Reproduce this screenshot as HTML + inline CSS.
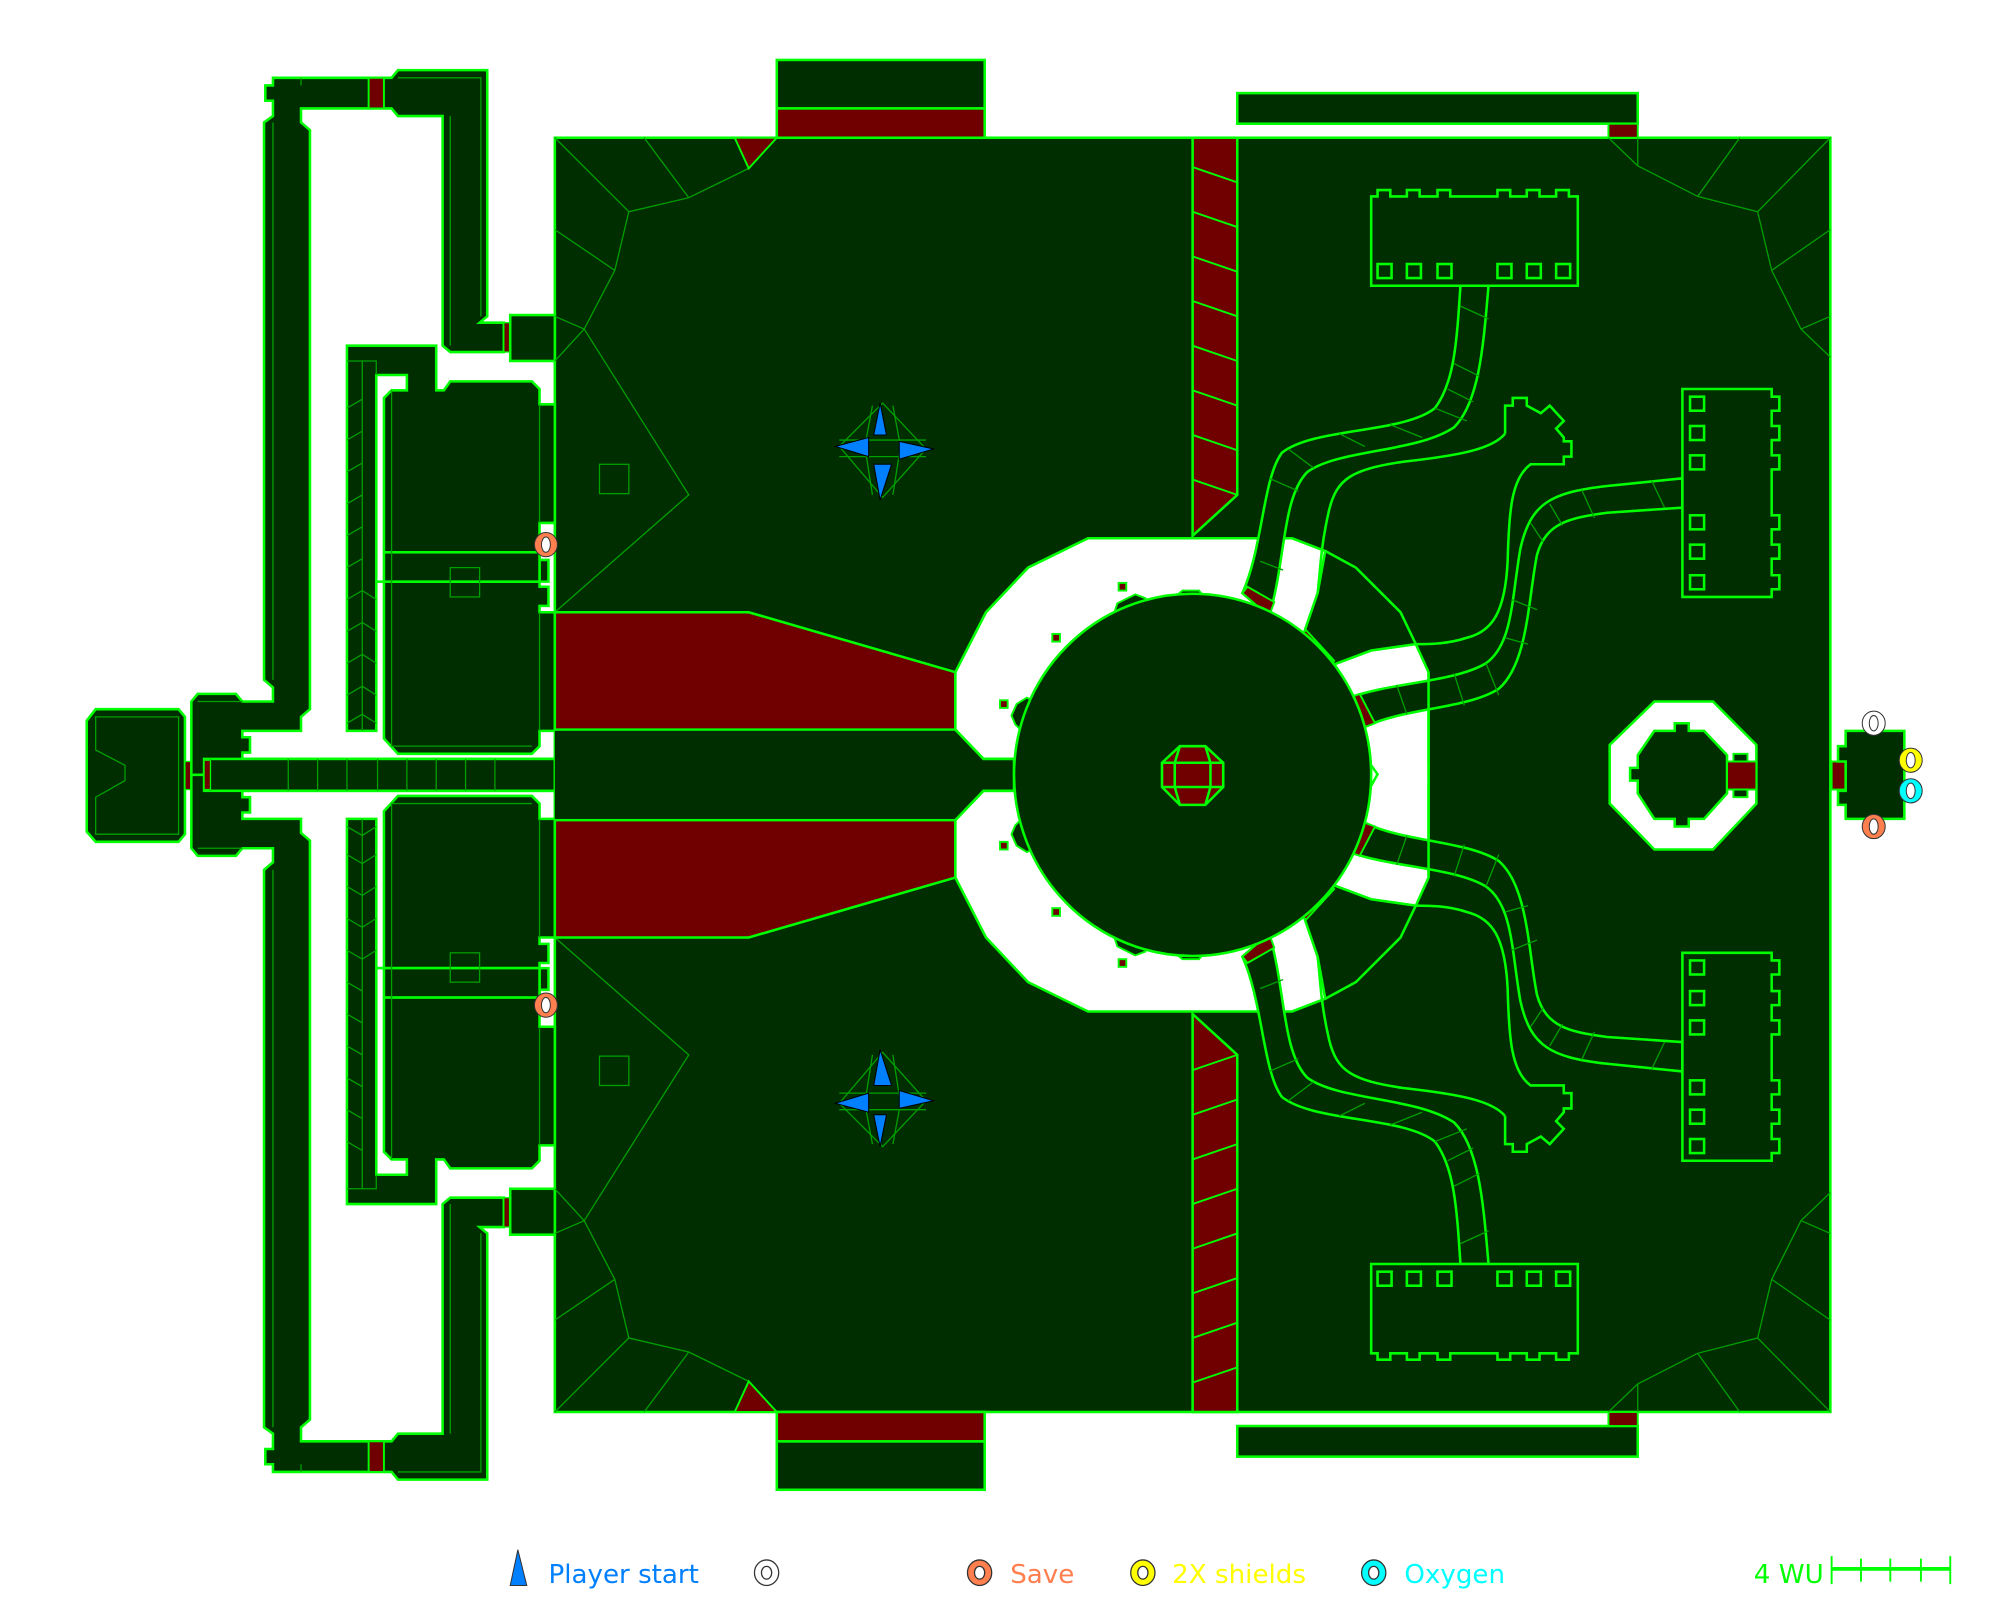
<!DOCTYPE html>
<html><head><meta charset="utf-8"><style>
html,body{margin:0;padding:0;background:#fff;}
svg{display:block;}
text{font-family:"DejaVu Sans","Liberation Sans",sans-serif;}
</style></head><body>
<svg width="2000" height="1600" viewBox="0 0 1568 1254.4" xmlns="http://www.w3.org/2000/svg">
<defs>
<g id="upper">
  <path d="M214,61 L307,61 L312,55 L382,55 L382,248 L376,253 L395,253 L395,276 L353,276 L347,271 L347,91 L312,91 L307,85 L236,85 L236,96 L243,102 L243,556 L236,562 L236,573 L190,573 L190,578 L196,578 L196,590 L190,590 L190,595 L435,595 L435,607.5 L150,607.5 L150,550 L155,544 L185,544 L190,550 L214,550 L214,539 L207,533 L207,96 L214,91 L214,79 L208,79 L208,67 L214,67 Z" fill="#002e00" stroke="#00ff00" stroke-width="2"/>
  <path d="M214,96 L214,533 M236,67 L236,61 M312,61 L377,61 L377,248 M353,91 L353,271 M155,550 L190,550" stroke="#00a000" stroke-width="1" fill="none"/>
  <rect x="289" y="61" width="12" height="24" fill="#700000" stroke="#00ff00" stroke-width="1.5"/>
  <rect x="395" y="253" width="5" height="23" fill="#700000" stroke="#00ff00" stroke-width="1"/>
  <rect x="400" y="247" width="35" height="36" fill="#002e00" stroke="#00ff00" stroke-width="2"/>
  <path d="M272,271 L342,271 L342,306 L348,306 L353,299 L417,299 L423,305 L423,317 L435,317 L435,410 L423,410 L423,439 L430,439 L430,456 L423,456 L423,460 L430,460 L430,475 L423,475 L423,480 L435,480 L435,573 L423,573 L423,585 L417,591 L312,591 L301,579 L301,456 L295,456 L295,573 L272,573 Z" fill="#002e00" stroke="#00ff00" stroke-width="2"/>
  <path d="M295,294 L319,294 L319,306 L307,306 L301,312 L301,433 L423,433 L423,456 L301,456 L295,456 Z" fill="#fff" stroke="#00ff00" stroke-width="2"/>
  <rect x="301" y="433" width="122" height="23" fill="#002e00" stroke="#00ff00" stroke-width="2"/>
  <path d="M284,283 L284,573 M272,283 L295,283 L295,294 M307,306 L307,585 L417,585 M423,317 L423,410 M423,480 L423,573 M272,320 L284,313 M272,345 L284,338 M272,370 L284,363 M272,395 L284,388 M272,420 L284,413 M272,445 L284,438 M272,470 L284,463 L295,470 M272,495 L284,488 L295,495 M272,520 L284,513 L295,520 M272,545 L284,538 L295,545 M272,567 L284,560 L295,567" stroke="#00a000" stroke-width="1" fill="none"/>
  <rect x="353" y="445" width="23" height="23" fill="none" stroke="#00a000" stroke-width="1"/>
  <path d="M435,108 L493,166 L540,155 L587,132 M505,108 L540,155 M435,180 L482,212 M493,166 L482,212 L458,258 L435,248 M458,258 L540,388 L435,480 M458,258 L435,283" stroke="#00a000" stroke-width="1" fill="none"/>
  <rect x="470" y="364" width="23" height="23" fill="none" stroke="#00a000" stroke-width="1"/>
  <path d="M576,108 L609,108 L587,132 Z" fill="#700000" stroke="#00ff00" stroke-width="1.5"/>
  <rect x="609" y="47" width="163" height="38" fill="#002e00" stroke="#00ff00" stroke-width="2"/>
  <rect x="609" y="85" width="163" height="23" fill="#700000" stroke="#00ff00" stroke-width="2"/>
  <rect x="970" y="73" width="314" height="24" fill="#002e00" stroke="#00ff00" stroke-width="2"/>
  <rect x="1261" y="97" width="23" height="11" fill="#700000" stroke="#00ff00" stroke-width="1.5"/>
  <path d="M435,480 L587,480 L749,527 L749,572 L435,572 Z" fill="#700000" stroke="#00ff00" stroke-width="2"/>
  <path d="M935,108 L970,108 L970,388 L935,420 Z" fill="#700000" stroke="#00ff00" stroke-width="2"/>
  <path d="M935,131 L970,143 M935,166 L970,178 M935,201 L970,213 M935,236 L970,248 M935,271 L970,283 M935,306 L970,318 M935,341 L970,353 M935,376 L970,388" stroke="#00ff00" stroke-width="1.5"/>
  <path d="M1261,108 L1284,130 L1331,154 L1378,166 L1435,108 M1284,108 L1284,130 M1364,108 L1331,154 M1378,166 L1389,212 L1412,258 L1435,280 M1389,212 L1435,180 M1412,258 L1435,248" stroke="#00a000" stroke-width="1" fill="none"/>
  <path d="M795,608 L795,595 L771,595 L749,572 L749,527 L773,480 L806,445 L853,422 L1013,422 L1039,432 L1033,465 L1022,497 L1043,522 L1075,510 L1110,505 L1120,527 L1120,608" fill="#fff" stroke="#00ff00" stroke-width="2"/>
  <path d="M1039,432 L1063,445 L1098,480 L1110,505" stroke="#00ff00" stroke-width="2" fill="none"/>
  <path d="M1145,224 C1142,270 1140,300 1125,320 C1100,340 1030,335 1005,355 C990,375 990,430 974,465 L995,483 C1008,440 1005,390 1025,370 C1050,352 1110,355 1140,335 C1160,315 1163,270 1167,224 Z" fill="#002e00" stroke="#00ff00" stroke-width="2"/>
  <path d="M1145,240 L1167,250 M1140,285 L1160,295 M1135,305 L1155,315 M1125,320 L1150,330 M1090,333 L1115,343 M1050,340 L1070,350 M1010,352 L1030,367 M995,375 L1018,385 M988,440 L1006,447" stroke="#00a000" stroke-width="1"/>
  <path d="M974,465 L995,483 L999,472 L978,460 Z" fill="#700000" stroke="#00ff00" stroke-width="1.5"/>
  <path d="M1319,375 L1260,381 C1215,386 1200,395 1192,430 C1185,470 1186,505 1165,520 C1140,535 1090,535 1058,547 L1070,570 C1100,555 1150,556 1175,540 C1198,520 1198,470 1205,435 C1212,410 1230,406 1260,402 L1319,398 Z" fill="#002e00" stroke="#00ff00" stroke-width="2"/>
  <path d="M1295,377 L1305,398 M1240,384 L1250,406 M1215,395 L1225,412 M1200,410 L1210,425 M1185,470 L1205,478 M1180,500 L1198,505 M1165,520 L1175,545 M1140,528 L1148,553 M1095,537 L1103,560" stroke="#00a000" stroke-width="1"/>
  <path d="M1058,547 L1070,570 L1078,567 L1066,544 Z" fill="#700000" stroke="#00ff00" stroke-width="1.5"/>
  <path d="M1020,497 L1043,522 L1046,518 L1024,494 Z" fill="#700000" stroke="#00ff00" stroke-width="1.5"/>
  <path d="M1180,340 L1180,318 L1186,318 L1186,312 L1197,312 L1197,318 L1208,324 L1215,318 L1226,330 L1220,336 L1226,343 L1226,346 L1232,346 L1232,358 L1226,358 L1226,364 L1200,364 C1185,375 1183,400 1182,440 C1180,480 1170,495 1150,500 C1135,505 1120,505 1110,505" fill="none" stroke="#00ff00" stroke-width="2"/>
  <path d="M1180,340 C1170,352 1145,357 1100,362 C1060,368 1048,375 1042,400 C1035,430 1035,450 1033,465" fill="none" stroke="#00ff00" stroke-width="2"/>
  <path d="M1075,154 L1080,154 L1080,149 L1090,149 L1090,154 L1103,154 L1103,149 L1113,149 L1113,154 L1127,154 L1127,149 L1137,149 L1137,154 L1174,154 L1174,149 L1184,149 L1184,154 L1197,154 L1197,149 L1207,149 L1207,154 L1220,154 L1220,149 L1230,149 L1230,154 L1237,154 L1237,224 L1075,224 Z" fill="#002e00" stroke="#00ff00" stroke-width="2"/>
  <g fill="none" stroke="#00ff00" stroke-width="2">
    <rect x="1080" y="207" width="11" height="11"/><rect x="1103" y="207" width="11" height="11"/><rect x="1127" y="207" width="11" height="11"/>
    <rect x="1174" y="207" width="11" height="11"/><rect x="1197" y="207" width="11" height="11"/><rect x="1220" y="207" width="11" height="11"/>
  </g>
  <path d="M1319,305 L1389,305 L1389,311 L1395,311 L1395,322 L1389,322 L1389,334 L1395,334 L1395,345 L1389,345 L1389,357 L1395,357 L1395,368 L1389,368 L1389,404 L1395,404 L1395,415 L1389,415 L1389,427 L1395,427 L1395,438 L1389,438 L1389,451 L1395,451 L1395,462 L1389,462 L1389,468 L1319,468 Z" fill="#002e00" stroke="#00ff00" stroke-width="2"/>
  <g fill="none" stroke="#00ff00" stroke-width="2">
    <rect x="1325" y="311" width="11" height="11"/><rect x="1325" y="334" width="11" height="11"/><rect x="1325" y="357" width="11" height="11"/>
    <rect x="1325" y="404" width="11" height="11"/><rect x="1325" y="427" width="11" height="11"/><rect x="1325" y="451" width="11" height="11"/>
  </g>
  <rect x="877" y="457" width="6" height="6" fill="#700000" stroke="#00ff00" stroke-width="1.5"/>
  <rect x="825" y="497" width="6" height="6" fill="#700000" stroke="#00ff00" stroke-width="1.5"/>
  <rect x="784" y="549" width="6" height="6" fill="#700000" stroke="#00ff00" stroke-width="1.5"/>
  <path d="M876,473 L890,466 L898,469 L899,474 L879,484 L874,479 Z" fill="#002e00" stroke="#00ff00" stroke-width="1.5"/>
  <path d="M879,484 L899,474" stroke="#700000" stroke-width="3"/>
  <path d="M832,512 L846,502 L851,500 L829,523 L828,518 Z" fill="#002e00" stroke="#00ff00" stroke-width="1.5"/>
  <path d="M797,552 L805,547 L810,549 L800,572 L796,568 L793,561 Z" fill="#002e00" stroke="#00ff00" stroke-width="1.5"/>
  <path d="M920,469 L927,463 L940,463 L945,469" fill="#002e00" stroke="#00ff00" stroke-width="1.5"/>
  <rect x="790" y="597" width="5" height="10.5" fill="#700000" stroke="#00ff00" stroke-width="1"/>
  <g>
    <path d="M692,316 L658,350 L692,390 L726,352 Z" fill="none" stroke="#00a000" stroke-width="1"/>
    <path d="M684,318 L678,350 L684,388 M700,318 L706,350 L700,388 M658,345 L726,345 M658,358 L726,358" stroke="#00a000" stroke-width="1" fill="none"/>
    <path d="M690,316 L685,341 L695,341 Z M655,350 L681,343 L681,358 Z M732,352 L705,346 L705,360 Z M690,392 L685,364 L699,364 Z" fill="#0080ff" stroke="#000" stroke-width="0.8"/>
  </g>
  <ellipse cx="428" cy="427" rx="9" ry="9.5" fill="#ff7f4f" stroke="#333" stroke-width="0.8"/>
  <ellipse cx="428" cy="427" rx="3.5" ry="6" fill="#fff" stroke="#333" stroke-width="0.8"/>
</g>
</defs>

<rect x="435" y="108" width="1000" height="999" fill="#002e00" stroke="#00ff00" stroke-width="2"/>
<path d="M75,556 L140,556 L145,562 L145,654 L140,660 L75,660 L68,652 L68,565 Z" fill="#002e00" stroke="#00ff00" stroke-width="2"/>
<path d="M75,562 L140,562 L140,654 L75,654 L75,625 L98,612 L98,600 L75,588 Z" fill="none" stroke="#00a000" stroke-width="1"/>
<rect x="145" y="597" width="5" height="22" fill="#700000" stroke="#00ff00" stroke-width="1"/>

<use href="#upper"/>
<use href="#upper" transform="translate(0,1215) scale(1,-1)"/>

<rect x="1076" y="600" width="43" height="15" fill="#fff"/>
<rect x="160" y="595" width="275" height="25" fill="#002e00" stroke="#00ff00" stroke-width="2"/>
<path d="M165,595 L165,620 M226,595 L226,620 M249,595 L249,620 M272,595 L272,620 M296,595 L296,620 M319,595 L319,620 M342,595 L342,620 M365,595 L365,620 M388,595 L388,620" stroke="#00a000" stroke-width="1"/>
<rect x="160" y="596" width="5" height="23" fill="#700000" stroke="#00ff00" stroke-width="1"/>
<rect x="435" y="573" width="314" height="69" fill="#002e00"/>
<path d="M749,572 L771,595 L795,595 L795,620 L771,620 L749,643" fill="#002e00" stroke="#00ff00" stroke-width="2"/>
<path d="M1120,527 L1120,687" stroke="#00ff00" stroke-width="2"/>

<ellipse cx="935" cy="607.5" rx="140" ry="142" fill="#002e00" stroke="#00ff00" stroke-width="2"/>
<path d="M1075,600 L1080,607 L1075,616" fill="none" stroke="#00ff00" stroke-width="2"/>
<path d="M925,585 L945,585 L959,598 L959,617 L945,631 L925,631 L911,617 L911,598 Z" fill="#700000" stroke="#00ff00" stroke-width="2"/>
<path d="M911,598 L959,598 M911,617 L959,617 M925,585 L921,598 L921,617 L925,631 M945,585 L949,598 L949,617 L945,631" stroke="#00ff00" stroke-width="2" fill="none"/>

<path d="M1297,550 L1343,550 L1377,584 L1377,630 L1343,666 L1297,666 L1262,630 L1262,584 Z" fill="#fff" stroke="#00ff00" stroke-width="2"/>
<path d="M1297,573 L1313,573 L1313,567 L1324,567 L1324,573 L1336,573 L1354,592 L1354,622 L1336,642 L1324,642 L1324,648 L1313,648 L1313,642 L1297,642 L1284,622 L1284,612 L1278,612 L1278,602 L1284,602 L1284,592 Z" fill="#002e00" stroke="#00ff00" stroke-width="2"/>
<rect x="1354" y="597" width="23" height="22" fill="#700000" stroke="#00ff00" stroke-width="1.5"/>
<rect x="1359" y="591" width="11" height="6" fill="#002e00" stroke="#00ff00" stroke-width="1.5"/>
<rect x="1359" y="619" width="11" height="6" fill="#002e00" stroke="#00ff00" stroke-width="1.5"/>

<rect x="1436" y="597" width="11" height="22" fill="#700000" stroke="#00ff00" stroke-width="1.5"/>
<path d="M1447,573 L1493,573 L1493,642 L1447,642 L1447,631 L1441,631 L1441,620 L1447,620 L1447,597 L1441,597 L1441,585 L1447,585 Z" fill="#002e00" stroke="#00ff00" stroke-width="2"/>
<ellipse cx="1469" cy="567" rx="9" ry="9.5" fill="#fff" stroke="#333" stroke-width="0.8"/>
<ellipse cx="1469" cy="567" rx="3.5" ry="6" fill="#fff" stroke="#333" stroke-width="0.8"/>
<ellipse cx="1498" cy="596" rx="9" ry="9.5" fill="#ffff00" stroke="#333" stroke-width="0.8"/>
<ellipse cx="1498" cy="596" rx="3.5" ry="6" fill="#fff" stroke="#333" stroke-width="0.8"/>
<ellipse cx="1498" cy="620" rx="9" ry="9.5" fill="#00ffff" stroke="#333" stroke-width="0.8"/>
<ellipse cx="1498" cy="620" rx="3.5" ry="6" fill="#fff" stroke="#333" stroke-width="0.8"/>
<ellipse cx="1469" cy="648" rx="9" ry="9.5" fill="#ff7f4f" stroke="#333" stroke-width="0.8"/>
<ellipse cx="1469" cy="648" rx="3.5" ry="6" fill="#fff" stroke="#333" stroke-width="0.8"/>

<path d="M406,1215 L400,1243 L413,1243 Z" fill="#0080ff" stroke="#333" stroke-width="0.8"/>
<text x="430" y="1241" font-size="20.5" fill="#0080ff">Player start</text>
<ellipse cx="601" cy="1233" rx="9.5" ry="10" fill="#fff" stroke="#333" stroke-width="1"/>
<ellipse cx="601" cy="1233" rx="4" ry="5" fill="#fff" stroke="#333" stroke-width="1"/>
<ellipse cx="768" cy="1233" rx="9.5" ry="10" fill="#ff7f4f" stroke="#333" stroke-width="1"/>
<ellipse cx="768" cy="1233" rx="4" ry="5" fill="#fff" stroke="#333" stroke-width="1"/>
<text x="792" y="1241" font-size="20.5" fill="#ff7f4f">Save</text>
<ellipse cx="896" cy="1233" rx="9.5" ry="10" fill="#ffff00" stroke="#333" stroke-width="1"/>
<ellipse cx="896" cy="1233" rx="4" ry="5" fill="#fff" stroke="#333" stroke-width="1"/>
<text x="919" y="1241" font-size="20.5" fill="#ffff00">2X shields</text>
<ellipse cx="1077" cy="1233" rx="9.5" ry="10" fill="#00ffff" stroke="#333" stroke-width="1"/>
<ellipse cx="1077" cy="1233" rx="4" ry="5" fill="#fff" stroke="#333" stroke-width="1"/>
<text x="1101" y="1241" font-size="20.5" fill="#00ffff">Oxygen</text>
<text x="1375" y="1241" font-size="20.5" fill="#00ff00">4 WU</text>
<path d="M1436,1230 L1529,1230" stroke="#00ff00" stroke-width="3"/>
<path d="M1436,1220 L1436,1242 M1459,1222 L1459,1240 M1482,1222 L1482,1240 M1506,1222 L1506,1240 M1529,1220 L1529,1242" stroke="#00ff00" stroke-width="1.5"/>
</svg>
</body></html>
